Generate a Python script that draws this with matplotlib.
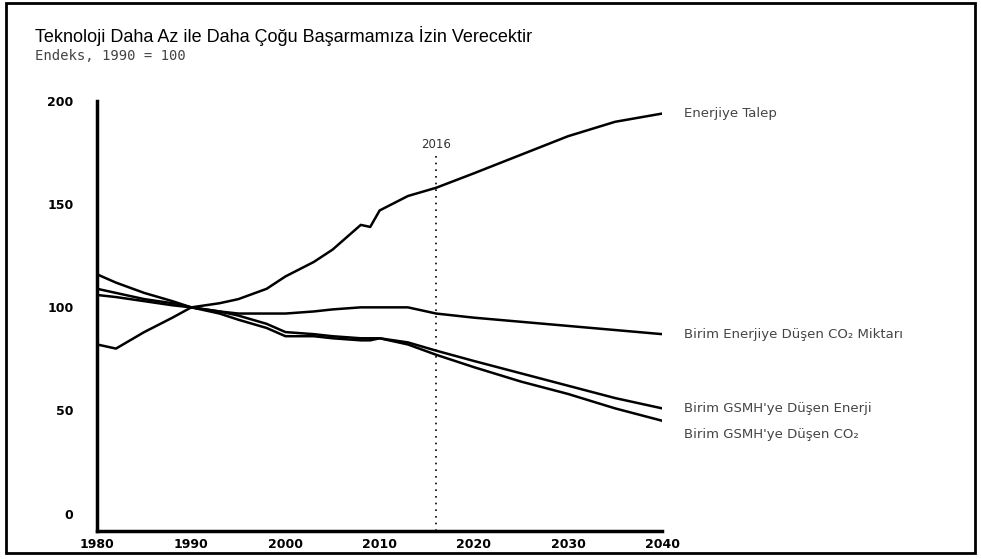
import numpy as np
import matplotlib
matplotlib.use("Agg")
import matplotlib.pyplot as plt
from matplotlib.patches import Rectangle

years = [1980, 1982, 1985, 1988, 1990, 1993, 1995, 1998, 2000, 2003, 2005, 2008, 2009, 2010, 2013, 2016, 2020, 2025, 2030, 2035, 2040]
energy_demand = [82, 80, 88, 95, 100, 102, 104, 109, 115, 122, 128, 140, 139, 147, 154, 158, 165, 174, 183, 190, 194]
co2_per_energy = [106, 105, 103, 101, 100, 98, 97, 97, 97, 98, 99, 100, 100, 100, 100, 97, 95, 93, 91, 89, 87]
energy_per_gdp = [109, 107, 104, 102, 100, 98, 96, 92, 88, 87, 86, 85, 85, 85, 83, 79, 74, 68, 62, 56, 51]
co2_per_gdp = [116, 112, 107, 103, 100, 97, 94, 90, 86, 86, 85, 84, 84, 85, 82, 77, 71, 64, 58, 51, 45]
series = [
    (energy_demand, "Enerjiye Talep"),
    (co2_per_energy, "Birim Enerjiye Düşen CO\u2082 Miktarı"),
    (energy_per_gdp, "Birim GSMH'ye Düşen Enerji"),
    (co2_per_gdp, "Birim GSMH'ye Düşen CO\u2082"),
]
label_offsets = [0, 0, 0, -10]

fig = plt.figure(figsize=(9.81, 5.59), dpi=100)
fig.patches.append(Rectangle((0.006, 0.01), 0.988, 0.985, transform=fig.transFigure,
                             fill=False, edgecolor="black", linewidth=2))

fig.text(0.036, 0.925, "Teknoloji Daha Az ile Daha Çoğu Başarmamıza İzin Verecektir",
         fontsize=13, color="black", family="Liberation Sans")
fig.text(0.036, 0.893, "Endeks, 1990 = 100", fontsize=10, color="#444444",
         family="DejaVu Sans Mono")

ax = fig.add_axes([0.099, 0.050, 0.576, 0.769])
for vals, name in series:
    ax.plot(years, vals, color="black", linewidth=1.8)
for (vals, name), off in zip(series, label_offsets):
    ax.annotate(name, (years[-1], vals[-1]), xytext=(16, off), textcoords="offset points",
                fontsize=9.5, color="#444444", va="center", ha="left", annotation_clip=False)

ax.axvline(2016, ymin=0, ymax=0.875, color="black", linestyle=(0, (1, 3)), linewidth=1.2)
ax.text(2016, 176, "2016", ha="center", va="bottom", fontsize=8.5, color="#333333")

ax.set_xlim(1980, 2040)
ax.set_ylim(-8.5, 200)
ax.set_xticks(range(1980, 2041, 10))
ax.set_yticks([0, 50, 100, 150, 200])
for s in ["top", "right"]:
    ax.spines[s].set_visible(False)
for s in ["left", "bottom"]:
    ax.spines[s].set_linewidth(2.5)
ax.tick_params(length=0, labelsize=9)
ax.tick_params(axis="x", pad=5)
ax.tick_params(axis="y", pad=17)
for lab in ax.get_xticklabels() + ax.get_yticklabels():
    lab.set_fontweight("bold")

fig.savefig("out.png", dpi=100)
